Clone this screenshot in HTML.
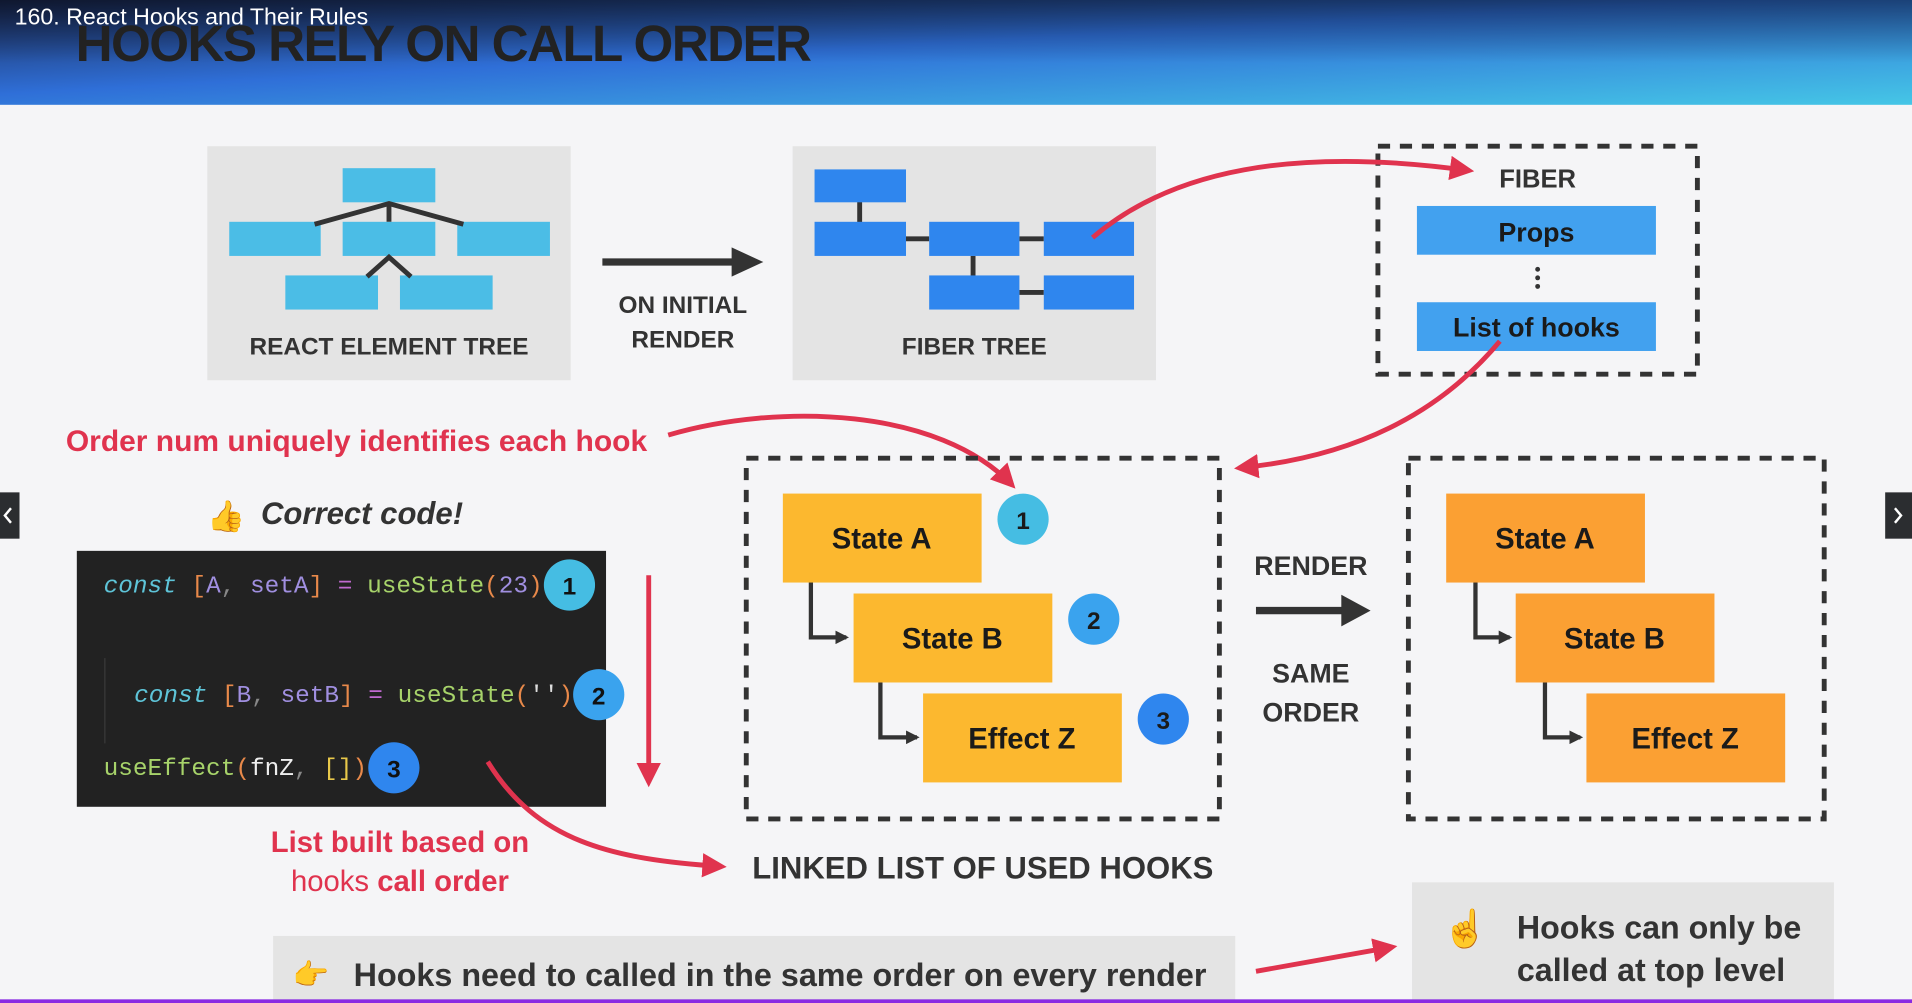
<!DOCTYPE html>
<html><head><meta charset="utf-8"><style>
html,body{margin:0;padding:0;width:1912px;height:1003px;overflow:hidden;background:#f5f5f7}
svg{display:block}
text{font-family:"Liberation Sans",sans-serif}
.b{font-weight:bold}
.m text,.m tspan{font-family:"Liberation Mono",monospace}
</style></head><body>
<svg width="1912" height="1003" viewBox="0 0 1568 823" preserveAspectRatio="none" xmlns="http://www.w3.org/2000/svg">
<defs>
<linearGradient id="hg" x1="0" y1="0" x2="1" y2="1">
<stop offset="0" stop-color="#1b2a55"/><stop offset="0.45" stop-color="#2f6fd8"/><stop offset="1" stop-color="#45c6e6"/>
</linearGradient>
<linearGradient id="hv" x1="0" y1="0" x2="0" y2="1">
<stop offset="0" stop-color="#000" stop-opacity="0.45"/><stop offset="0.6" stop-color="#000" stop-opacity="0"/>
</linearGradient>
<marker id="ar" viewBox="0 0 10 10" refX="8" refY="5" markerWidth="5" markerHeight="5" orient="auto"><path d="M0 0L10 5L0 10z" fill="#e0334e"/></marker>
<marker id="ad" viewBox="0 0 10 10" refX="8" refY="5" markerWidth="3.2" markerHeight="3.2" orient="auto"><path d="M0 0L10 5L0 10z" fill="#333"/></marker>
</defs>
<rect width="1568" height="823" fill="#f5f5f7"/>
<rect width="1568" height="86" fill="url(#hg)"/>
<rect width="1568" height="86" fill="url(#hv)"/>
<text x="62" y="50" font-size="42" class="b" fill="#222" letter-spacing="-1.3">HOOKS RELY ON CALL ORDER</text>
<text x="12" y="20" font-size="19" fill="#fff">160. React Hooks and Their Rules</text>

<!-- React element tree -->
<rect x="170" y="120" width="298" height="192" fill="#e4e4e4"/>
<g fill="#4bbde6">
<rect x="281" y="138" width="76" height="28"/>
<rect x="188" y="182" width="75" height="28"/><rect x="281" y="182" width="76" height="28"/><rect x="375" y="182" width="76" height="28"/>
<rect x="234" y="226" width="76" height="28"/><rect x="328" y="226" width="76" height="28"/>
</g>
<g stroke="#333" stroke-width="4" fill="none">
<path d="M258 184L319 167L380 184M319 167V182M301 227L319 211L337 227"/>
</g>
<text x="319" y="291" font-size="20" class="b" fill="#333" text-anchor="middle">REACT ELEMENT TREE</text>

<path d="M494 215H608" stroke="#333" stroke-width="6"/><path d="M600 203L626 215L600 227z" fill="#333"/>
<text x="560" y="257" font-size="20" class="b" fill="#333" text-anchor="middle">ON INITIAL</text>
<text x="560" y="285" font-size="20" class="b" fill="#333" text-anchor="middle">RENDER</text>

<rect x="650" y="120" width="298" height="192" fill="#e4e4e4"/>
<g stroke="#333" stroke-width="4"><path d="M705 165V184M742 196H762M836 196H856M798 210V228M836 240H856"/></g>
<g fill="#2f86ee">
<rect x="668" y="139" width="75" height="27"/>
<rect x="668" y="182" width="75" height="28"/><rect x="762" y="182" width="74" height="28"/><rect x="856" y="182" width="74" height="28"/>
<rect x="762" y="226" width="74" height="28"/><rect x="856" y="226" width="74" height="28"/>
</g>
<text x="799" y="291" font-size="20" class="b" fill="#333" text-anchor="middle">FIBER TREE</text>

<rect x="1130" y="120" width="262" height="187" fill="none" stroke="#333" stroke-width="4" stroke-dasharray="10 8"/>
<text x="1261" y="154" font-size="21" class="b" fill="#333" text-anchor="middle">FIBER</text>
<rect x="1162" y="169" width="196" height="40" fill="#42a1ef"/>
<text x="1260" y="198" font-size="22" class="b" fill="#1a1a1a" text-anchor="middle">Props</text>
<g fill="#333"><circle cx="1261" cy="221" r="2"/><circle cx="1261" cy="228" r="2"/><circle cx="1261" cy="235" r="2"/></g>
<rect x="1162" y="248" width="196" height="40" fill="#42a1ef"/>
<text x="1260" y="276" font-size="22" class="b" fill="#1a1a1a" text-anchor="middle">List of hooks</text>

<text x="54" y="370" font-size="24.6" class="b" fill="#e0334e">Order num uniquely identifies each hook</text>
<text x="170" y="432" font-size="25">👍</text>
<text x="214" y="430" font-size="25.5" class="b" font-style="italic" fill="#333">Correct code!</text>

<!-- code -->
<rect x="63" y="452" width="434" height="210" fill="#222222"/>
<g class="m" font-size="20">
<text x="85" y="486"><tspan fill="#5ec4d8" font-style="italic">const </tspan><tspan fill="#e8894a">[</tspan><tspan fill="#a08fe0">A</tspan><tspan fill="#888">, </tspan><tspan fill="#a08fe0">setA</tspan><tspan fill="#e8894a">]</tspan><tspan fill="#c06ad0"> = </tspan><tspan fill="#a7d36a">useState</tspan><tspan fill="#e8894a">(</tspan><tspan fill="#a08fe0">23</tspan><tspan fill="#e8894a">)</tspan></text>
<text x="110" y="576"><tspan fill="#5ec4d8" font-style="italic">const </tspan><tspan fill="#e8894a">[</tspan><tspan fill="#a08fe0">B</tspan><tspan fill="#888">, </tspan><tspan fill="#a08fe0">setB</tspan><tspan fill="#e8894a">]</tspan><tspan fill="#c06ad0"> = </tspan><tspan fill="#a7d36a">useState</tspan><tspan fill="#e8894a">(</tspan><tspan fill="#ddd">''</tspan><tspan fill="#e8894a">)</tspan></text>
<text x="85" y="636"><tspan fill="#a7d36a">useEffect</tspan><tspan fill="#e8894a">(</tspan><tspan fill="#eee">fnZ</tspan><tspan fill="#888">, </tspan><tspan fill="#e8c84a">[]</tspan><tspan fill="#e8894a">)</tspan></text>
</g>
<line x1="86" y1="540" x2="86" y2="610" stroke="#3a3a3a" stroke-width="1"/>
<g font-size="20" class="b" text-anchor="middle" fill="#111">
<circle cx="467" cy="480" r="21" fill="#45bde3"/><text x="467" y="488">1</text>
<circle cx="491" cy="570" r="21" fill="#3aa3ee"/><text x="491" y="578">2</text>
<circle cx="323" cy="630" r="21" fill="#2f86ee"/><text x="323" y="638">3</text>
</g>

<!-- red curves -->
<g stroke="#e0334e" stroke-width="4" fill="none" marker-end="url(#ar)">
<path d="M896 195C960 140 1060 120 1205 140"/>
<path d="M1230 280C1180 340 1110 375 1016 384"/>
<path d="M548 357C640 330 770 335 830 398"/>
<path d="M400 625C440 690 500 705 592 711"/>
<path d="M532 472V642"/>
<path d="M1030 797L1142 777"/>
</g>

<text x="328" y="699" font-size="24" class="b" fill="#e0334e" text-anchor="middle">List built based on</text>
<text x="328" y="731" font-size="24" class="b" fill="#e0334e" text-anchor="middle"><tspan font-weight="normal">hooks </tspan>call order</text>

<rect x="612" y="376" width="388" height="296" fill="none" stroke="#333" stroke-width="4" stroke-dasharray="10 8"/>
<g stroke="#333" stroke-width="3.5" fill="none" marker-end="url(#ad)">
<path d="M665 478V523H694"/><path d="M722 560V605H752"/>
<path d="M1210 478V523H1238"/><path d="M1267 560V605H1296"/>
</g>
<g font-size="24" class="b" fill="#1a1a1a" text-anchor="middle">
<rect x="642" y="405" width="163" height="73" fill="#fcb82f"/><text x="723" y="450">State A</text>
<rect x="700" y="487" width="163" height="73" fill="#fcb82f"/><text x="781" y="532">State B</text>
<rect x="757" y="569" width="163" height="73" fill="#fcb82f"/><text x="838" y="614">Effect Z</text>
<circle cx="839" cy="426" r="21" fill="#45bde3"/><text x="839" y="434" font-size="20">1</text>
<circle cx="897" cy="508" r="21" fill="#3aa3ee"/><text x="897" y="516" font-size="20">2</text>
<circle cx="954" cy="590" r="21" fill="#2f86ee"/><text x="954" y="598" font-size="20">3</text>
</g>
<text x="806" y="721" font-size="25.5" class="b" fill="#333" text-anchor="middle">LINKED LIST OF USED HOOKS</text>

<text x="1075" y="472" font-size="22" class="b" fill="#333" text-anchor="middle">RENDER</text>
<path d="M1030 501H1105" stroke="#333" stroke-width="6"/><path d="M1100 488L1124 501L1100 514z" fill="#333"/>
<text x="1075" y="560" font-size="22" class="b" fill="#333" text-anchor="middle">SAME</text>
<text x="1075" y="592" font-size="22" class="b" fill="#333" text-anchor="middle">ORDER</text>

<rect x="1155" y="376" width="341" height="296" fill="none" stroke="#333" stroke-width="4" stroke-dasharray="10 8"/>
<g font-size="24" class="b" fill="#1a1a1a" text-anchor="middle">
<rect x="1186" y="405" width="163" height="73" fill="#fba033"/><text x="1267" y="450">State A</text>
<rect x="1243" y="487" width="163" height="73" fill="#fba033"/><text x="1324" y="532">State B</text>
<rect x="1301" y="569" width="163" height="73" fill="#fba033"/><text x="1382" y="614">Effect Z</text>
</g>

<rect x="224" y="768" width="789" height="60" fill="#e4e4e4"/>
<text x="240" y="808" font-size="24">👉</text>
<text x="290" y="809" font-size="26.5" class="b" fill="#333">Hooks need to called in the same order on every render</text>
<rect x="1158" y="724" width="346" height="105" fill="#e4e4e4"/>
<text x="1183" y="772" font-size="30">☝</text>
<text x="1244" y="770" font-size="26.4" class="b" fill="#333">Hooks can only be</text>
<text x="1244" y="805" font-size="26.4" class="b" fill="#333">called at top level</text>

<rect x="0" y="404" width="16" height="38" fill="#2b2d30"/>
<path d="M9 417L4 423L9 429" stroke="#fff" stroke-width="2" fill="none"/>
<rect x="1546" y="404" width="22" height="38" fill="#2b2d30"/>
<path d="M1554 417L1559 423L1554 429" stroke="#fff" stroke-width="2" fill="none"/>
<rect x="0" y="820" width="1568" height="3" fill="#8a2be2"/>
</svg>
</body></html>
